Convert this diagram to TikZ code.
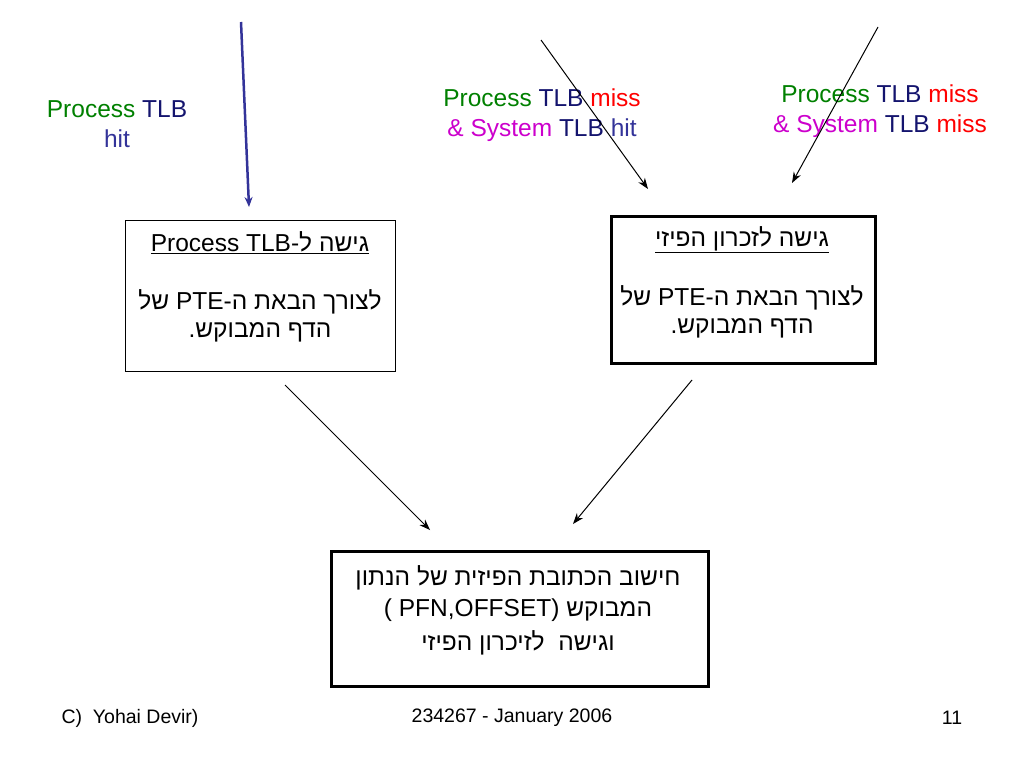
\documentclass[tikz,border=0pt]{standalone}
\usetikzlibrary{arrows.meta}
\usepackage{fontspec}
\setmainfont{Liberation Sans}
\newfontfamily\heb[Script=Hebrew]{Liberation Sans}
\newfontfamily\lat{Liberation Sans}
\TeXXeTstate=1
\definecolor{pgreen}{RGB}{0,128,0}
\definecolor{pnavy}{RGB}{20,20,110}
\definecolor{pblue}{RGB}{51,51,153}
\definecolor{pmag}{RGB}{204,0,204}
\definecolor{pred}{RGB}{255,0,0}
\begin{document}
\begin{tikzpicture}[x=1pt,y=-1pt,
  lbl/.style={font=\fontsize{24.5}{30}\selectfont,align=center,inner sep=0},
  btxt/.style={font=\heb\fontsize{24.5}{30}\selectfont,align=center,inner sep=0},
  ctxt/.style={font=\heb\fontsize{24.5}{30}\selectfont,align=center,inner sep=0},
  ftxt/.style={font=\fontsize{19.5}{24}\selectfont,inner sep=0},
  arr/.style={-{Stealth[length=11pt,width=8pt]},line width=1pt}]
\useasboundingbox (0,0) rectangle (1024,768);
\node[draw,line width=0.8pt,minimum width=270,minimum height=151,anchor=north west] (b1) at (125,220) {};
\node[draw,line width=3pt,minimum width=264,minimum height=147,anchor=north west] (b2) at (610,215) {};
\node[draw,line width=3pt,minimum width=377,minimum height=135,anchor=north west] (b3) at (330,550) {};
\node[btxt] (t1a) at (260,243) {\underline{\beginR גישה ל-\beginL{\lat Process TLB}\endL\endR}};
\node[btxt] (t1b) at (260,302) {\beginR לצורך הבאת ה-\beginL{\lat PTE}\endL{} של\endR};
\node[btxt] (t1c) at (260,332) {\beginR הדף המבוקש.\endR};
\node[btxt] (t2a) at (742,240) {\underline{\beginR גישה לזכרון הפיזי\endR}};
\node[btxt] (t2b) at (742,298) {\beginR לצורך הבאת ה-\beginL{\lat PTE}\endL{} של\endR};
\node[btxt] (t2c) at (742,328) {\beginR הדף המבוקש.\endR};
\node[ctxt] (t3a) at (518,578) {\beginR חישוב הכתובת הפיזית של הנתון\endR};
\node[ctxt] (t3b) at (518,610) {\beginR המבוקש \beginL{\lat ( PFN,OFFSET)}\endL\endR};
\node[ctxt] (t3c) at (518,643) {\beginR וגישה\ \ לזיכרון הפיזי\endR};
\node[lbl] (l1) at (117,124) {\textcolor{pgreen}{Process} \textcolor{pnavy}{TLB}\\\textcolor{pblue}{hit}};
\node[lbl] (l2) at (542,115) {\textcolor{pgreen}{Process} \textcolor{pnavy}{TLB} \textcolor{pred}{miss}\\\textcolor{pmag}{\& System} \textcolor{pnavy}{TLB} \textcolor{pblue}{hit}};
\node[lbl] (l3) at (880,111) {\textcolor{pgreen}{Process} \textcolor{pnavy}{TLB} \textcolor{pred}{miss}\\\textcolor{pmag}{\& System} \textcolor{pnavy}{TLB} \textcolor{pred}{miss}};
\coordinate (s0) at (241,22); \coordinate (e0) at (249,207);
\coordinate (s1) at (541,40); \coordinate (e1) at (648,189);
\coordinate (s2) at (878,27); \coordinate (e2) at (792,183);
\coordinate (s3) at (285,385); \coordinate (e3) at (430,530);
\coordinate (s4) at (692,380); \coordinate (e4) at (573,524);
\draw[arr,line width=2.5pt,pblue,-{Stealth[length=10pt,width=8pt]}] (s0) -- (e0);
\draw[arr] (s1) -- (e1);
\draw[arr] (s2) -- (e2);
\draw[arr] (s3) -- (e3);
\draw[arr] (s4) -- (e4);
\node[ftxt] (f1) at (130,718) {C)\ \ Yohai Devir)};
\node[ftxt] (f2) at (512,718) {234267 - January 2006};
\node[ftxt] (f3) at (952,718) {11};
\end{tikzpicture}
\end{document}
